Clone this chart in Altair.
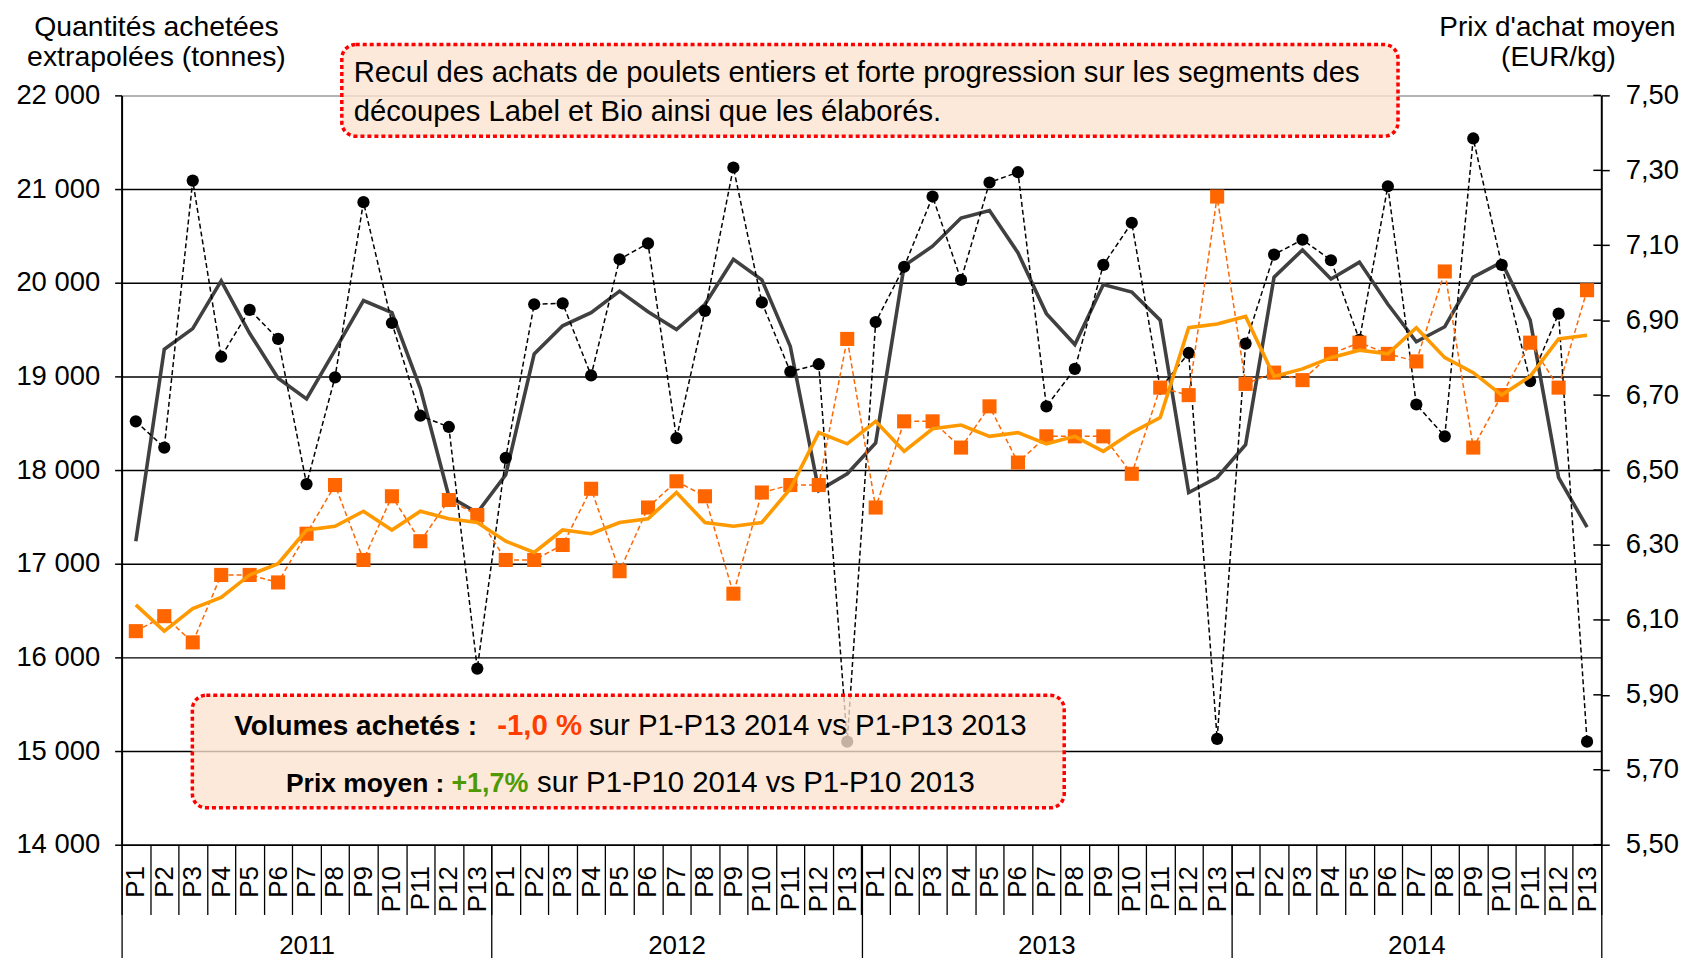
import altair as alt
import pandas as pd

years = ["2011", "2012", "2013", "2014"]
periods = [f"P{i}" for i in range(1, 14)]

# Volumes achetés (tonnes) - points noirs
vol = [18520, 18240, 21090, 19210, 19710, 19400, 17850, 18990, 20860, 19570, 18580, 18460, 15880,
       18130, 19770, 19780, 19010, 20250, 20420, 18340, 19700, 21230, 19790, 19050, 19130, 15100,
       19580, 20170, 20920, 20030, 21070, 21180, 18680, 19080, 20190, 20640, 18870, 19250, 15130,
       19350, 20300, 20460, 20240, 19390, 21030, 18700, 18360, 21540, 20190, 18950, 19670, 15100]
# Volumes - courbe lissée (gris foncé)
vol_trend = [17240, 19290, 19510, 20020, 19460, 18980, 18760, 19280, 19810, 19680, 18870, 17720, 17545,
             17950, 19240, 19540, 19680, 19910, 19690, 19500, 19770, 20250, 20030, 19320, 17780, 17960,
             18290, 20180, 20390, 20690, 20770, 20320, 19670, 19340, 19980, 19900, 19600, 17760, 17920,
             18270, 20060, 20350, 20040, 20220, 19770, 19370, 19530, 20060, 20220, 19600, 17920, 17390]
# Prix d'achat moyen (EUR/kg) - carrés orange
price = [6.07, 6.11, 6.04, 6.22, 6.22, 6.20, 6.33, 6.46, 6.26, 6.43, 6.31, 6.42, 6.38,
         6.26, 6.26, 6.30, 6.45, 6.23, 6.40, 6.47, 6.43, 6.17, 6.44, 6.46, 6.46, 6.85,
         6.40, 6.63, 6.63, 6.56, 6.67, 6.52, 6.59, 6.59, 6.59, 6.49, 6.72, 6.70, 7.23,
         6.73, 6.76, 6.74, 6.81, 6.84, 6.81, 6.79, 7.03, 6.56, 6.70, 6.84, 6.72, 6.98]
# Prix - courbe lissée (orange)
price_trend = [6.14, 6.07, 6.13, 6.16, 6.22, 6.25, 6.34, 6.35, 6.39, 6.34, 6.39, 6.37, 6.36,
               6.31, 6.28, 6.34, 6.33, 6.36, 6.37, 6.44, 6.36, 6.35, 6.36, 6.45, 6.60, 6.57,
               6.63, 6.55, 6.61, 6.62, 6.59, 6.60, 6.57, 6.59, 6.55, 6.60, 6.64, 6.88, 6.89,
               6.91, 6.75, 6.77, 6.80, 6.82, 6.81, 6.88, 6.80, 6.76, 6.70, 6.75, 6.85, 6.86]

vol_ticks = list(range(14000, 22001, 1000))
price_ticks = [5.5, 5.7, 5.9, 6.1, 6.3, 6.5, 6.7, 6.9, 7.1, 7.3, 7.5]

rows = []
for i in range(52):
    rows.append(dict(idx=i, period=periods[i % 13], year=years[i // 13],
                     vol=vol[i], vol_trend=vol_trend[i],
                     price=price[i], price_trend=price_trend[i]))
df = pd.DataFrame(rows)
one = pd.DataFrame({"k": [0]})
ptick_df = pd.DataFrame({"p": price_ticks})

FONT = "Liberation Sans"
W, H = 1485, 752

x_period = alt.X(
    "idx:O",
    scale=alt.Scale(type="band", paddingInner=0, paddingOuter=0),
    axis=alt.Axis(
        title=None, orient="bottom",
        labelExpr="isValid(datum.value) && isFinite(datum.value) ? 'P' + (datum.value % 13 + 1) : ''",
        labelAngle=270, labelAlign="right", labelBaseline="middle",
        labelFontSize=26, labelFont=FONT, labelColor="black",
        labelPadding=-49, labelOverlap=False,
        tickBand="extent", tickSize=70, tickColor="black", tickWidth=1.3,
        domainColor="black", domainWidth=1.5, grid=False,
    ),
)


def y_vol(field):
    return alt.Y(
        f"{field}:Q",
        scale=alt.Scale(domain=[14000, 22000], nice=False, zero=False),
        axis=alt.Axis(
            title=None, orient="left", values=vol_ticks,
            labelExpr="replace(format(datum.value, ','), ',', ' ')",
            labelFontSize=27.5, labelFont=FONT, labelColor="black", labelPadding=15,
            tickSize=7, tickColor="black", tickWidth=1.5,
            domainColor="black", domainWidth=2,
            grid=True, gridWidth=1.5,
            gridColor={"condition": {"test": "datum.value >= 21999", "value": "#9a9a9a"}, "value": "black"},
        ),
    )


def y_price(field):
    return alt.Y(
        f"{field}:Q",
        scale=alt.Scale(domain=[5.5, 7.5], nice=False, zero=False),
        axis=alt.Axis(
            title=None, orient="right", values=price_ticks,
            labelExpr="replace(format(datum.value, '.2f'), '.', ',')",
            labelFontSize=27.5, labelFont=FONT, labelColor="black", labelPadding=16,
            tickSize=8, tickColor="black", tickWidth=1.5,
            domainColor="black", domainWidth=2, grid=False,
        ),
    )


base = alt.Chart(df)

grey_line = base.mark_line(color="#404040", strokeWidth=3.6).encode(x=x_period, y=y_vol("vol_trend"))
black_line = base.mark_line(color="black", strokeWidth=1.5, strokeDash=[5, 3]).encode(x=x_period, y=y_vol("vol"))
black_pts = base.mark_point(shape="circle", filled=True, size=150, color="black", opacity=1).encode(
    x=x_period, y=y_vol("vol"))
vol_group = alt.layer(grey_line, black_line, black_pts)

orange_dash = base.mark_line(color="#FF6600", strokeWidth=1.5, strokeDash=[5, 3]).encode(x=x_period, y=y_price("price"))
orange_pts = base.mark_point(shape="square", filled=True, size=200, color="#FF6600", opacity=1).encode(
    x=x_period, y=y_price("price"))
orange_line = base.mark_line(color="#FF9900", strokeWidth=3.6).encode(x=x_period, y=y_price("price_trend"))
inner_ticks = alt.Chart(ptick_df).mark_rule(color="black", strokeWidth=1.5).encode(
    y=y_price("p"), x=alt.value(W - 8), x2=alt.value(W))
price_group = alt.layer(orange_dash, orange_pts, orange_line, inner_ticks)

inner = alt.layer(vol_group, price_group).resolve_scale(y="independent")

year_layer = alt.Chart(pd.DataFrame({"year": years})).mark_rule(opacity=0).encode(
    x=alt.X("year:N",
            scale=alt.Scale(type="band", paddingInner=0, paddingOuter=0),
            axis=alt.Axis(orient="bottom", title=None, tickBand="extent", tickSize=125,
                          labelPadding=-15.5, labelFontSize=26, labelFont=FONT, labelColor="black",
                          labelBaseline="alphabetic", labelAngle=0, domain=False, grid=False,
                          tickColor="black", tickWidth=1.3)))


def box(x1, x2, y1, y2):
    return alt.Chart(one).mark_rect(
        cornerRadius=14, fill="#FCE3CE", fillOpacity=0.78,
        stroke="#FF0000", strokeWidth=3.5, strokeDash=[4, 3],
    ).encode(x=alt.value(x1), x2=alt.value(x2), y=alt.value(y1), y2=alt.value(y2))


def txt(s, x, y, size, weight="normal", color="black", align="left"):
    return alt.Chart(one).mark_text(
        text=s, fontSize=size, fontWeight=weight, color=color, align=align,
        baseline="alphabetic", font=FONT,
    ).encode(x=alt.value(x), y=alt.value(y))


annots = [
    box(221, 1281, -51, 41),
    txt("Recul des achats de poulets entiers et forte progression sur les segments des", 233, -13, 29.3),
    txt("découpes Label et Bio ainsi que les élaborés.", 233, 25.5, 29.3),
    box(71, 946, 602, 715),
    txt("Volumes achetés :", 113, 642, 28, weight="bold"),
    txt("-1,0 %", 377, 642, 29.5, weight="bold", color="#FF3D00"),
    txt("sur P1-P13 2014 vs P1-P13 2013", 469, 642, 29.5),
    txt("Prix moyen :", 165, 699, 26.5, weight="bold"),
    txt("+1,7%", 331, 699, 27, weight="bold", color="#4E9A06"),
    txt("sur P1-P10 2014 vs P1-P10 2013", 417, 699, 29.5),
    txt("Quantités achetées", 35, -59.5, 28.5, align="center"),
    txt("extrapolées (tonnes)", 35, -29.5, 28.5, align="center"),
    txt("Prix d'achat moyen", 1441, -59.5, 28, align="center"),
    txt("(EUR/kg)", 1442, -29.5, 28, align="center"),
]

chart = alt.layer(inner, year_layer, *annots).resolve_scale(
    x="independent", y="independent"
).properties(
    width=W, height=H,
    autosize=alt.AutoSizeParams(type="none"),
    padding={"left": 114, "top": 86, "right": 82, "bottom": 112},
    background="white",
).configure_view(stroke=None)

chart.save("out.html", embed_options={"renderer": "svg", "actions": False})
